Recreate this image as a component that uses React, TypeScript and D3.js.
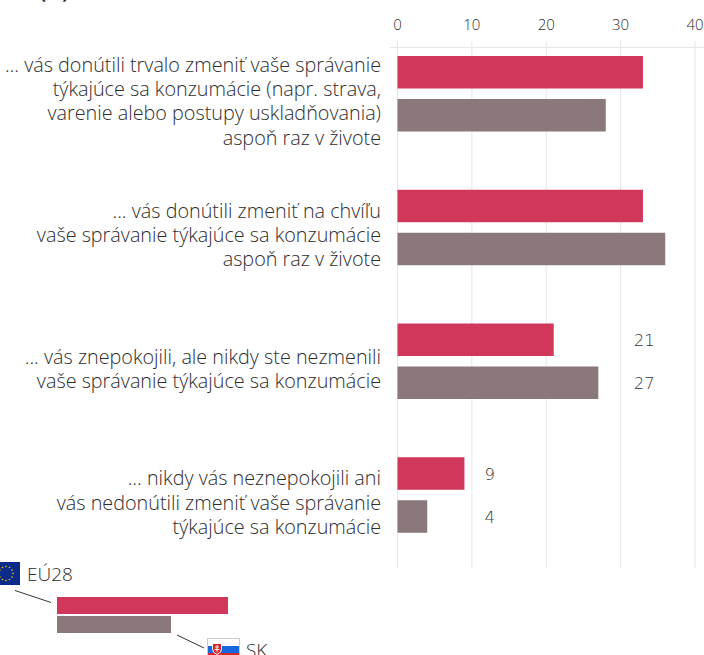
import React from "react";
import * as d3 from "d3";

const categories = ["a", "b", "c", "d"];
const euValues = [33, 33, 21, 9];
const skValues = [28, 36, 27, 4];
const showLabels = [false, false, true, true];
const labelLines = [
  ["... vás donútili trvalo zmeniť vaše správanie", "týkajúce sa konzumácie (napr. strava,", "varenie alebo postupy uskladňovania)", "aspoň raz v živote"],
  ["... vás donútili zmeniť na chvíľu", "vaše správanie týkajúce sa konzumácie", "aspoň raz v živote"],
  ["... vás znepokojili, ale nikdy ste nezmenili", "vaše správanie týkajúce sa konzumácie"],
  ["... nikdy vás neznepokojili ani", "vás nedonútili zmeniť vaše správanie", "týkajúce sa konzumácie"],
];
const ticks = [0, 10, 20, 30, 40];
const RED = "#d0375b";
const GREY = "#8a787b";
const FONT = "'Open Sans', sans-serif";
const TXT = "#2e2e2e";

export default function App() {
  const x = d3.scaleLinear().domain([0, 40]).range([397.5, 695]);
  const y = d3.scaleBand().domain(categories).range([38.5, 573.5]).paddingInner(0).paddingOuter(0);
  const stars = d3.range(12).map((i) => (i * Math.PI) / 6);
  return (
    <svg width={704} height={655} style={{ position: "absolute", left: 0, top: 0 }} fontFamily={FONT}>
      <text x={40} y={-1} fontSize={18} fontWeight={700} fill={TXT}>(%)</text>
      {ticks.map((t) => (
        <g key={t}>
          <line x1={x(t)} x2={x(t)} y1={41} y2={568} stroke="#e6e6e6" />
          <text x={x(t)} y={30} fontSize={15} fontWeight={300} textAnchor="middle" fill={TXT}>{t}</text>
        </g>
      ))}
      <line x1={390} x2={704} y1={47.5} y2={47.5} stroke="#e6e6e6" />
      {categories.map((c, i) => {
        const top = y(c)!;
        const bh = 32.5;
        const y1 = top + 17.5;
        const y2 = top + 60.5;
        const mid = top + y.bandwidth() / 2 - 4;
        const lines = labelLines[i];
        const lh = 24.2;
        return (
          <g key={c}>
            <rect x={x(0)} y={y1} width={x(euValues[i]) - x(0)} height={bh} fill={RED} />
            <rect x={x(0)} y={y2} width={x(skValues[i]) - x(0)} height={bh} fill={GREY} />
            {showLabels[i] && (
              <>
                <text x={x(euValues[i]) + (i === 2 ? 80 : 20)} y={y1 + bh / 2 + 6} fontSize={16.5} fontWeight={200} fontFamily="'DejaVu Sans'" fill="#333">{euValues[i]}</text>
                <text x={x(euValues[i]) + (i === 2 ? 80 : 20)} y={y2 + bh / 2 + 6} fontSize={16.5} fontWeight={200} fontFamily="'DejaVu Sans'" fill="#333">{skValues[i]}</text>
              </>
            )}
            {lines.map((l, j) => (
              <text key={j} x={381} y={mid + (j - (lines.length - 1) / 2) * lh + 7} fontSize={19.8} fontWeight={300} textAnchor="end" fill={TXT}>{l}</text>
            ))}
          </g>
        );
      })}
      {/* legend */}
      <rect x={-2} y={562} width={22} height={23} fill="#0b2a8a" />
      {stars.map((a, i) => (
        <circle key={i} cx={6 + 7 * Math.sin(a)} cy={573.5 - 7 * Math.cos(a)} r={0.8} fill="#f4d400" />
      ))}
      <text x={27} y={581} fontSize={19} fontWeight={300} fill={TXT}>EÚ28</text>
      <line x1={15} y1={590.5} x2={51} y2={602.5} stroke="#333" />
      <rect x={57} y={597} width={171} height={17} fill={RED} />
      <rect x={57} y={616} width={114} height={17} fill={GREY} />
      <line x1={177} y1={635} x2={204} y2={648} stroke="#333" />
      <rect x={207.5} y={638.5} width={32} height={22} fill="#fff" stroke="#ccc" />
      <rect x={208} y={646} width={31} height={7} fill="#1668e0" />
      <rect x={208} y={653} width={31} height={7} fill="#d8272d" />
      <path d="M212.5 643.5h9v6q0 3 -4.5 5q-4.5 -2 -4.5 -5z" fill="#d8272d" stroke="#fff" />
      <path d="M217 645v7M215 647h4M214.5 649.5h5" stroke="#fff" strokeWidth={0.9} />
      <text x={246} y={657} fontSize={19} fontWeight={300} fill={TXT}>SK</text>
    </svg>
  );
}
